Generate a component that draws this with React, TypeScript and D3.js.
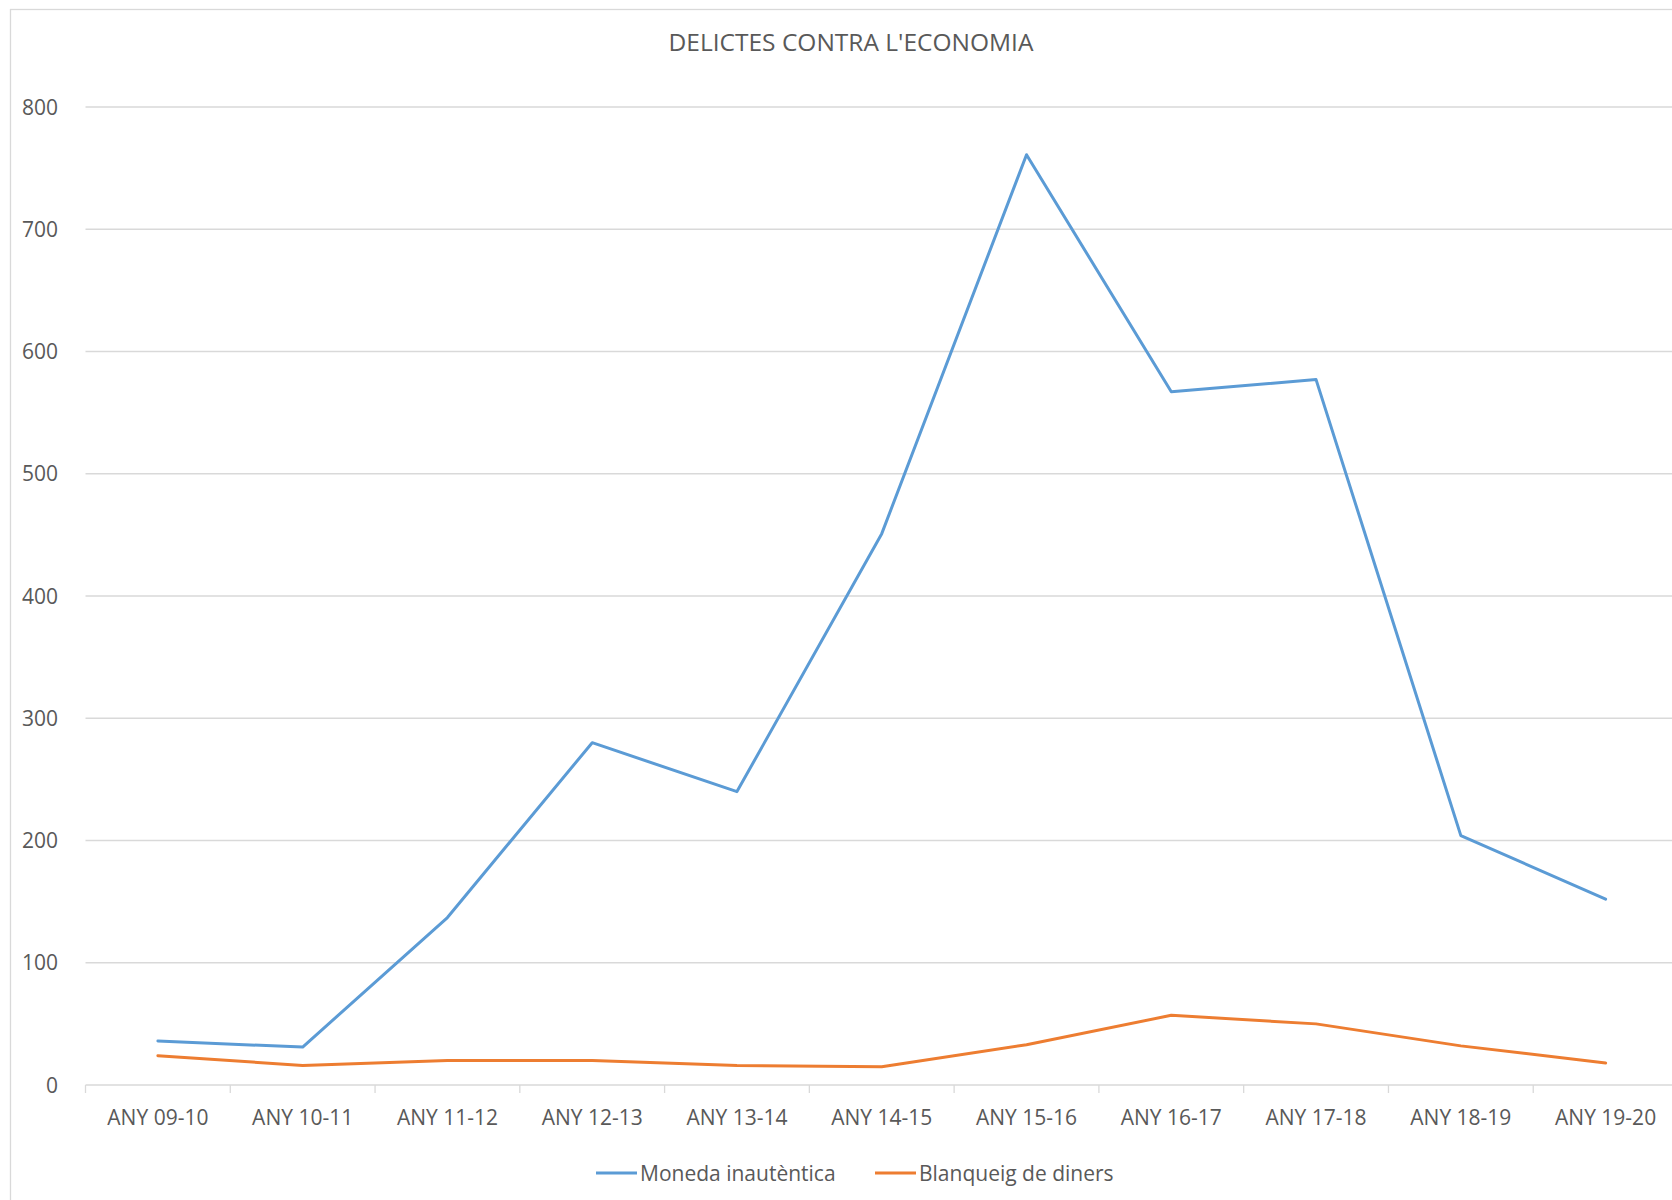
import React from "react";
import * as d3 from "d3";

const categories = [
  "ANY 09-10", "ANY 10-11", "ANY 11-12", "ANY 12-13", "ANY 13-14", "ANY 14-15",
  "ANY 15-16", "ANY 16-17", "ANY 17-18", "ANY 18-19", "ANY 19-20",
];
const monedaInautentica = [36, 31, 137, 280, 240, 451, 761, 567, 577, 204, 152];
const blanqueigDeDiners = [24, 16, 20, 20, 16, 15, 33, 57, 50, 32, 18];
const yTicks = [0, 100, 200, 300, 400, 500, 600, 700, 800];
const seriesNames = ["Moneda inautèntica", "Blanqueig de diners"];
const seriesColors = ["#5B9BD5", "#ED7D31"];
const title = "DELICTES CONTRA L'ECONOMIA";

const W = 1672;
const H = 1200;
const FONT = "'Open Sans', 'Noto Sans', sans-serif";
const TEXT = "#595959";
const GRID = "#D9D9D9";

export default function App() {
  const x = d3.scaleBand<string>().domain(categories).range([85.5, 1678]);
  const y = d3.scaleLinear().domain([0, 800]).range([1085, 107]);
  const line = d3
    .line<number>()
    .x((_, i) => (x(categories[i]) as number) + x.bandwidth() / 2)
    .y((d) => y(d));
  const series = [monedaInautentica, blanqueigDeDiners];
  const tickXs = d3.range(categories.length + 1).map((i) => x.range()[0] + i * x.step());

  const legendItems = [
    { name: seriesNames[0], color: seriesColors[0], lx: 596 },
    { name: seriesNames[1], color: seriesColors[1], lx: 875 },
  ];

  return (
    <svg
      width={W}
      height={H}
      style={{ position: "absolute", left: 0, top: 0, background: "#fff" }}
      fontFamily={FONT}
    >
      <rect x={0} y={0} width={W} height={H} fill="#fff" />
      <rect x={10.5} y={9.5} width={W + 20} height={H + 20} fill="none" stroke={GRID} strokeWidth={1.3} />
      <text x={851} y={51} textAnchor="middle" fontSize={24.5} fill={TEXT}>
        {title}
      </text>
      {yTicks.map((t) => (
        <g key={t}>
          <line x1={85.5} x2={W} y1={y(t)} y2={y(t)} stroke={GRID} strokeWidth={1.3} />
          <text x={58} y={y(t) + 7.5} textAnchor="end" fontSize={21} fill={TEXT}>
            {t}
          </text>
        </g>
      ))}
      {tickXs.map((tx, i) => (
        <line key={i} x1={tx} x2={tx} y1={1085} y2={1093} stroke={GRID} strokeWidth={1.3} />
      ))}
      {categories.map((c) => (
        <text
          key={c}
          x={(x(c) as number) + x.bandwidth() / 2}
          y={1125}
          textAnchor="middle"
          fontSize={21}
          fill={TEXT}
        >
          {c}
        </text>
      ))}
      {series.map((s, i) => (
        <path
          key={i}
          d={line(s) as string}
          fill="none"
          stroke={seriesColors[i]}
          strokeWidth={3}
          strokeLinejoin="round"
          strokeLinecap="round"
        />
      ))}
      {legendItems.map((l) => (
        <g key={l.name}>
          <line x1={l.lx} x2={l.lx + 41} y1={1173} y2={1173} stroke={l.color} strokeWidth={3} />
          <text x={l.lx + 44} y={1180.5} fontSize={21} fill={TEXT}>
            {l.name}
          </text>
        </g>
      ))}
    </svg>
  );
}
